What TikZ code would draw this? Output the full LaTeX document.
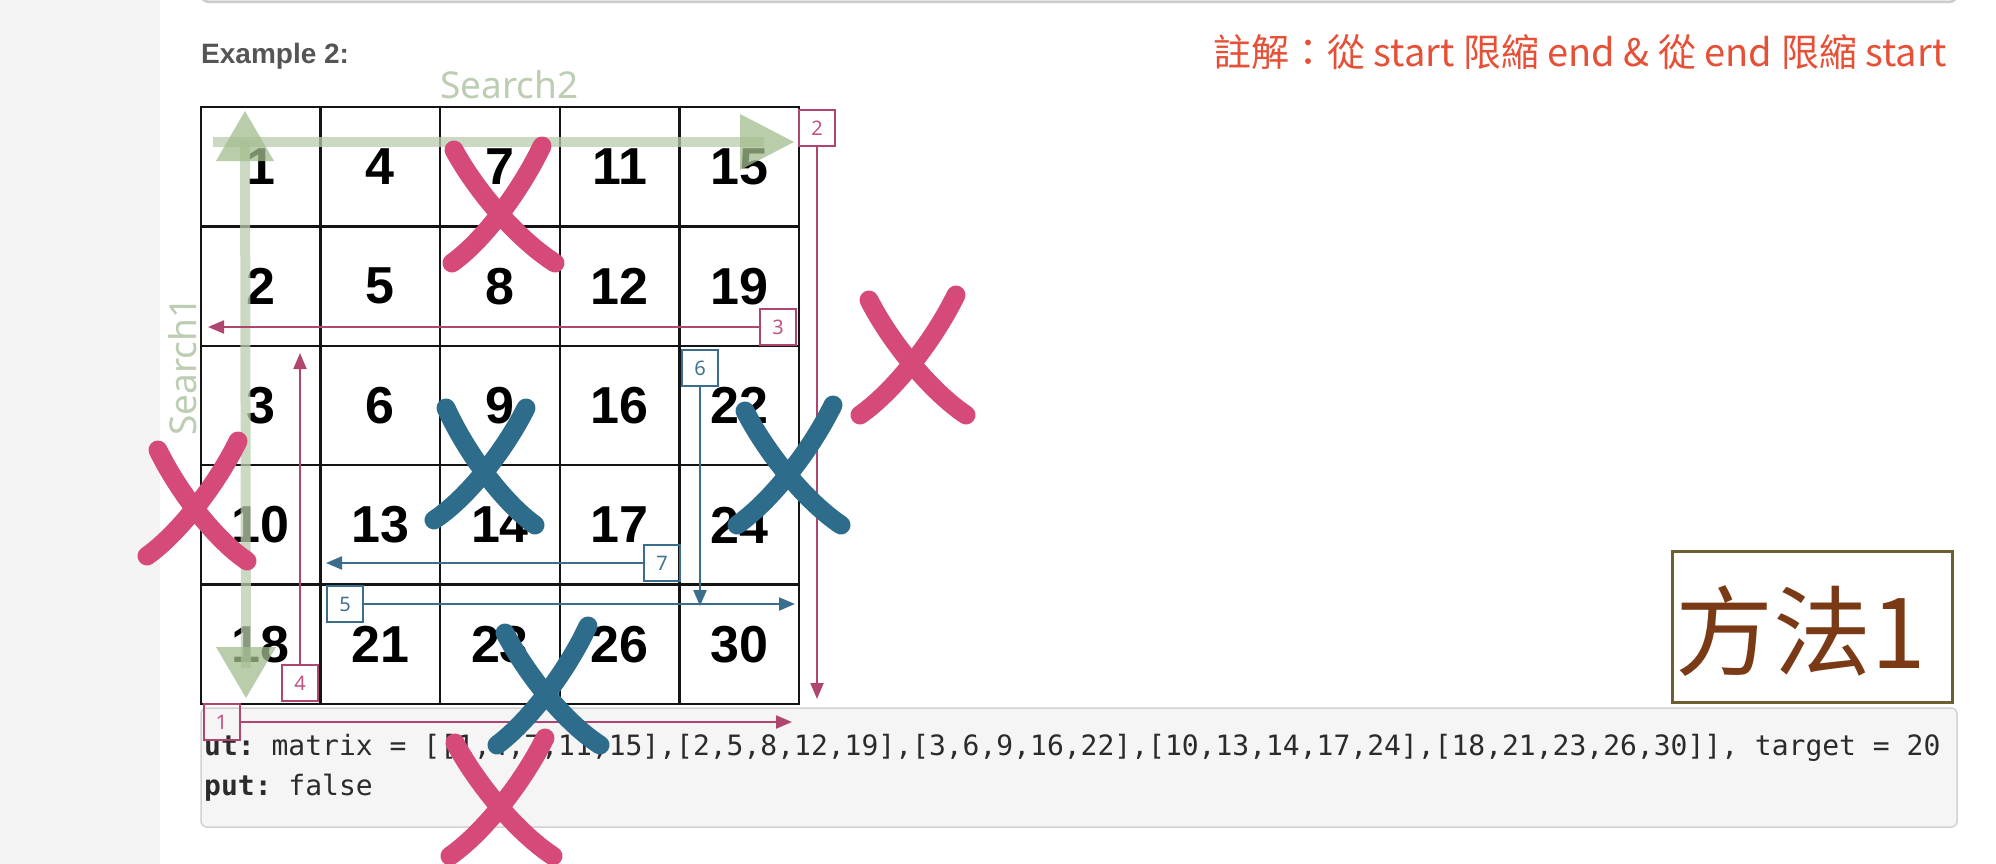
\documentclass[tikz,border=0pt]{standalone}
\usepackage{fontspec}
\setmainfont{Liberation Sans}
\setmonofont{DejaVu Sans Mono}
\newfontfamily\cjkfont{Noto Sans CJK TC}
\newfontfamily\notofont{Noto Sans}
\usetikzlibrary{arrows.meta}
\definecolor{stripgray}{HTML}{F4F4F4}
\definecolor{cardborder}{HTML}{CCCCCC}
\definecolor{codebg}{HTML}{F5F5F5}
\definecolor{codeborder}{HTML}{D2D2D2}
\definecolor{titlegray}{HTML}{555555}
\definecolor{notered}{HTML}{E65037}
\definecolor{searchgreen}{HTML}{BCCDB2}
\definecolor{greenline}{HTML}{BBCDAE}
\definecolor{greenhead}{HTML}{A3BD8F}
\definecolor{pinkline}{HTML}{B04670}
\definecolor{pinklabel}{HTML}{C25383}
\definecolor{blueline}{HTML}{3A6E8C}
\definecolor{bluelabel}{HTML}{3F7290}
\definecolor{pinkx}{HTML}{D64A7A}
\definecolor{bluex}{HTML}{2E6C8C}
\definecolor{brownink}{HTML}{7A3A16}
\definecolor{brownborder}{HTML}{6E5F32}
\definecolor{codetext}{HTML}{2B2B2B}
\begin{document}
\begin{tikzpicture}[x=1pt,y=-1pt,
  cell/.style={draw=black!92,line width=2.5pt,minimum width=119.6pt,minimum height=119.4pt,inner sep=0pt,font=\bfseries\fontsize{52}{52}\selectfont},
  numbox/.style={draw,line width=2pt,minimum size=36pt,inner sep=0pt,font=\notofont\fontsize{20}{20}\selectfont},
  pinkbox/.style={numbox,draw=pinkline,text=pinklabel},
  bluebox/.style={numbox,draw=blueline,text=bluelabel},
  pinkarrow/.style={draw=pinkline,line width=2.2pt,-{Triangle[length=16pt,width=13pt]}},
  bluearrow/.style={draw=blueline,line width=2.2pt,-{Triangle[length=16pt,width=13pt]}},
  greenstroke/.style={draw=greenline,line width=10pt,opacity=0.75},
  greentip/.style={fill=greenhead,opacity=0.75},
  xstroke/.style={line width=19pt,line cap=round},
  pinkmark/.style={xstroke,draw=pinkx},
  bluemark/.style={xstroke,draw=bluex},
  searchlabel/.style={text=searchgreen,font=\notofont\fontsize{37}{37}\selectfont,inner sep=0pt},
  codeline/.style={anchor=base west,inner sep=0pt,text=codetext,font=\ttfamily\fontsize{28}{28}\selectfont}
]
\useasboundingbox (0,0) rectangle (1996,864);
\fill[white] (0,0) rectangle (1996,864);
\fill[stripgray] (0,0) rectangle (160,864);
\draw[cardborder,fill=codebg,line width=2.5pt,rounded corners=8pt] (201,-40) rectangle (1957,2);

% headings
\node[anchor=base west,inner sep=0pt,text=titlegray,font=\bfseries\fontsize{28}{28}\selectfont] (title) at (201,64) {Example 2:};
\node[anchor=base west,inner sep=0pt,text=notered,font=\cjkfont\fontsize{38}{38}\selectfont] (note) at (1213,67) {註解：從 start 限縮 end \& 從 end 限縮 start};

% code box
\node[draw=codeborder,fill=codebg,line width=1.5pt,rounded corners=6pt,minimum width=1756pt,minimum height=119pt,inner sep=0pt] (code) at (1079,767.5) {};
\node[codeline] (line1) at (204,755) {\textbf{ut:} matrix = [[1,4,7,11,15],[2,5,8,12,19],[3,6,9,16,22],[10,13,14,17,24],[18,21,23,26,30]], target = 20};
\node[codeline] (line2) at (204,795) {\textbf{put:} false};

% grid
\foreach \row [count=\r from 0] in {{1,4,7,11,15},{2,5,8,12,19},{3,6,9,16,22},{10,13,14,17,24},{18,21,23,26,30}} {
  \foreach \v [count=\c from 0] in \row {
    \node[cell] (cell-\r-\c) at ({260.8+119.6*\c},{166.7+119.4*\r}) {\v};
  }
}

% search labels
\node[searchlabel,anchor=base west] (s2) at (440,99) {Search2};
\node[searchlabel,anchor=base west,rotate=90] (s1) at (196,436) {Search1};

% green arrows
\coordinate (gtop) at (245,111);
\coordinate (gbot) at (246,698);
\coordinate (gleft) at (213,142);
\coordinate (gright) at (794,142);
\draw[greenstroke,shorten <=30pt,shorten >=30pt] (gtop) -- (gbot);
\draw[greenstroke,shorten >=30pt] (gleft) -- (gright);
\fill[greentip] (gtop) -- ++(-29,50) -- ++(58,0) -- cycle;
\fill[greentip] (gbot) -- ++(-30,-51) -- ++(60,0) -- cycle;
\fill[greentip] (gright) -- ++(-54,-28) -- ++(0,56) -- cycle;

% numbered boxes and arrows
\node[pinkbox] (b1) at (221.5,722) {1};
\node[pinkbox] (b2) at (817,128) {2};
\node[pinkbox] (b3) at (778,327) {3};
\node[pinkbox] (b4) at (300,683) {4};
\node[bluebox] (b5) at (345,604) {5};
\node[bluebox] (b6) at (700,368) {6};
\node[bluebox] (b7) at (662,563) {7};
\coordinate (e1) at (792,722);
\coordinate (e2) at (817,699);
\coordinate (e3) at (208,327);
\coordinate (e4) at (300,353);
\coordinate (e5) at (795,604);
\coordinate (e6) at (700,606);
\coordinate (e7) at (326,563);
\draw[pinkarrow] (b1) -- (e1);
\draw[pinkarrow] (b2) -- (e2);
\draw[pinkarrow] (b3) -- (e3);
\draw[pinkarrow] (b4) -- (e4);
\draw[bluearrow] (b5) -- (e5);
\draw[bluearrow] (b6) -- (e6);
\draw[bluearrow] (b7) -- (e7);

% blue X marks
\draw[bluemark] (446,408) .. controls (467,454) and (504,503) .. (535,525);
\draw[bluemark] (526,408) .. controls (504,452) and (466,499) .. (434,520);
\draw[bluemark] (745,411) .. controls (768,456) and (808,503) .. (841,525);
\draw[bluemark] (833,405) .. controls (810,452) and (770,502) .. (737,525);
\draw[bluemark] (505,633) .. controls (528,677) and (567,724) .. (600,745);
\draw[bluemark] (588,626) .. controls (566,673) and (528,722) .. (497,745);

% pink X marks
\draw[pinkmark] (454,150) .. controls (478,194) and (520,241) .. (555,263);
\draw[pinkmark] (542,146) .. controls (520,192) and (483,241) .. (452,263);
\draw[pinkmark] (869,300) .. controls (892,345) and (933,393) .. (966,415);
\draw[pinkmark] (956,295) .. controls (933,342) and (893,392) .. (860,415);
\draw[pinkmark] (158,450) .. controls (179,493) and (216,540) .. (247,561);
\draw[pinkmark] (238,441) .. controls (216,486) and (178,534) .. (147,556);
\draw[pinkmark] (455,743) .. controls (479,787) and (519,834) .. (553,856);
\draw[pinkmark] (545,738) .. controls (522,784) and (483,833) .. (450,856);

% method label
\node[draw=brownborder,line width=3pt,fill=white,minimum width=280pt,minimum height=151pt,inner sep=0pt] (m1box) at (1812,626.5) {};
\node[text=brownink,font=\cjkfont\fontsize{98}{98}\selectfont,inner sep=0pt] (m1) at (1801,631) {方法1};
\end{tikzpicture}
\end{document}
